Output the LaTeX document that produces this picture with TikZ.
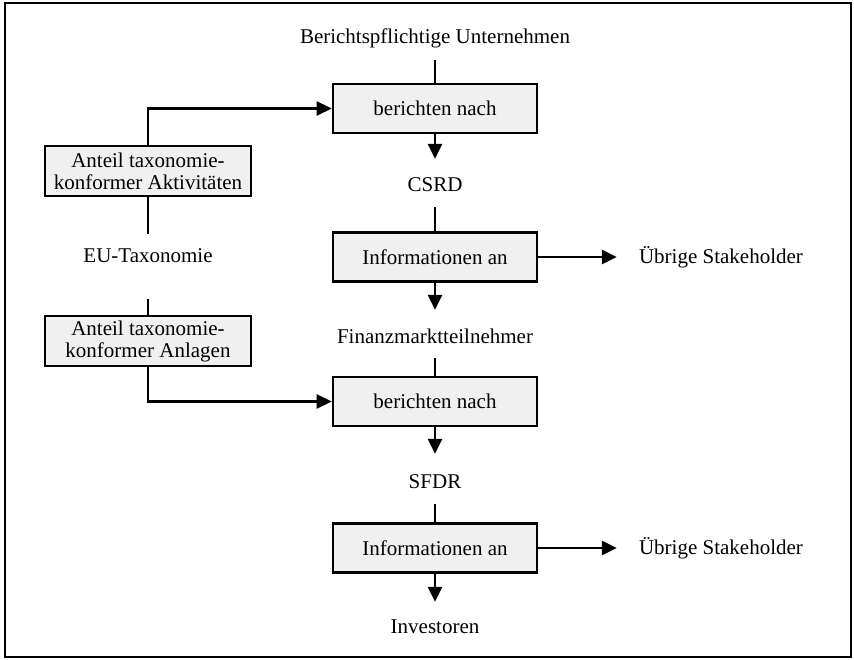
\documentclass[tikz,border=0pt]{standalone}
\usepackage{fontspec}
\setmainfont{Liberation Serif}
\usetikzlibrary{arrows.meta}
\definecolor{kastengrau}{RGB}{240,240,240}

\begin{document}
\begin{tikzpicture}[x=1pt, y=-1pt,
        font=\fontsize{21}{22}\selectfont,
        kasten/.style={draw, line width=2.6pt, fill=kastengrau, minimum width=204pt, minimum height=49pt, inner sep=0pt, align=center},
        etikett/.style={inner xsep=22pt, inner ysep=0pt, minimum height=44pt},
        linie/.style={line width=2.6pt},
        pfeil/.style={line width=2.6pt, -{Triangle[length=15pt,width=14pt]}}]
        \useasboundingbox (0,0) rectangle (854,660);
        \draw[line width=1.6pt] (5,3) rectangle (851,657);

        % mittlere Spalte
        \node[etikett] (unternehmen) at (435,38) {Berichtspflichtige Unternehmen};
        \node[kasten] (bericht1) at (435,108.5) {berichten nach};
        \node[etikett] (csrd) at (435,185) {CSRD};
        \node[kasten] (info1) at (435,257) {Informationen an};
        \node[etikett] (stake1) at (721,257) {Übrige Stakeholder};
        \node[etikett] (finanz) at (435,336) {Finanzmarktteilnehmer};
        \node[kasten] (bericht2) at (435,401.5) {berichten nach};
        \node[etikett] (sfdr) at (435,482) {SFDR};
        \node[kasten] (info2) at (435,548) {Informationen an};
        \node[etikett] (stake2) at (721,548) {Übrige Stakeholder};
        \node[etikett] (investoren) at (435,627) {Investoren};

        % linke Spalte
        \node[kasten, minimum width=206pt, minimum height=50pt] (aktiv) at (148,171) {Anteil taxonomie-\\konformer Aktivitäten};
        \node[etikett] (taxo) at (148,256) {EU-Taxonomie};
        \node[kasten, minimum width=206pt, minimum height=50pt] (anlagen) at (148,341) {Anteil taxonomie-\\konformer Anlagen};

        \draw[linie] (unternehmen) -- (bericht1);
        \draw[pfeil, shorten >=4pt] (bericht1) -- (csrd);
        \draw[linie] (csrd) -- (info1);
        \draw[pfeil] (info1) -- (stake1);
        \draw[pfeil, shorten >=4pt] (info1) -- (finanz);
        \draw[linie] (finanz) -- (bericht2);
        \draw[pfeil, shorten >=6pt] (bericht2) -- (sfdr);
        \draw[linie] (sfdr) -- (info2);
        \draw[pfeil] (info2) -- (stake2);
        \draw[pfeil, shorten >=3pt] (info2) -- (investoren);

        \draw[pfeil] (aktiv.north) |- (bericht1.west);
        \draw[linie] (aktiv) -- (taxo);
        \draw[linie, shorten <=21pt] (taxo) -- (anlagen);
        \draw[pfeil] (anlagen.south) |- (bericht2.west);
\end{tikzpicture}
\end{document}
